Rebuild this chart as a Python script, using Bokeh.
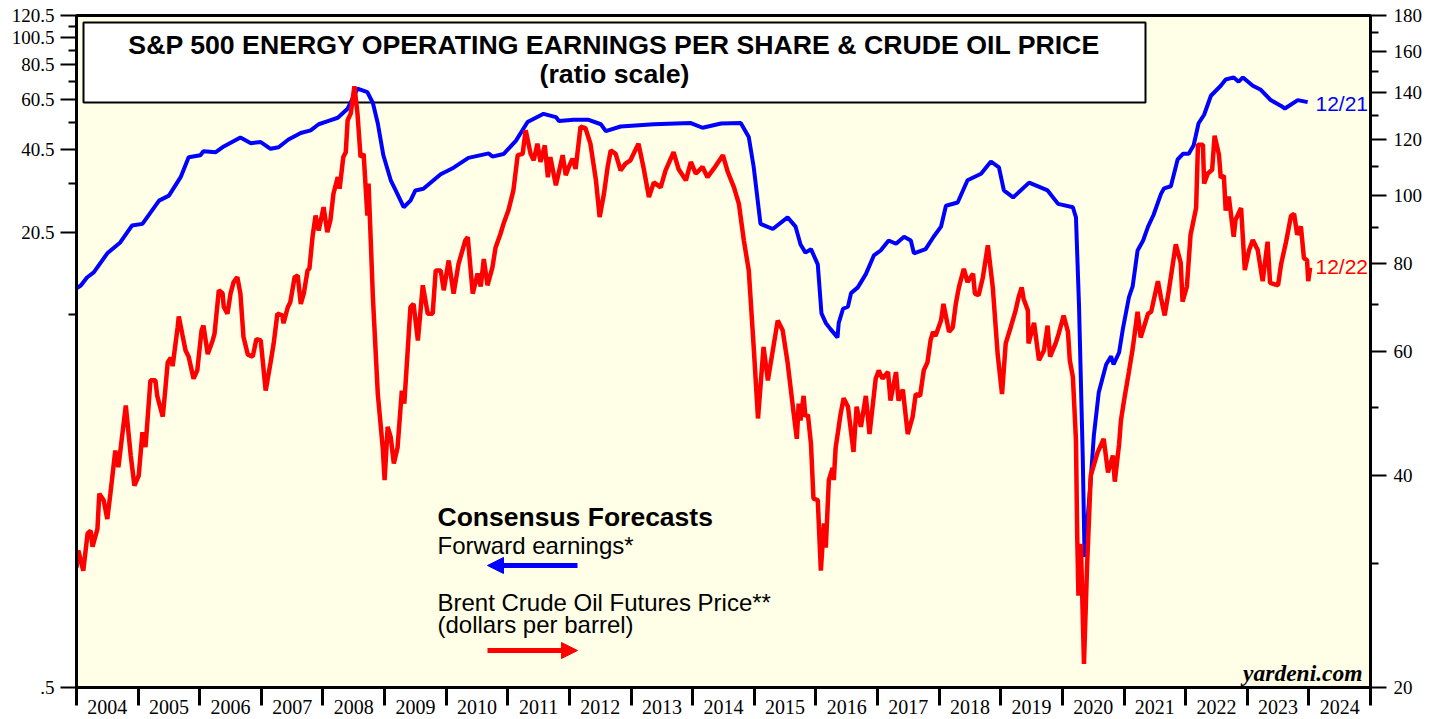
from bokeh.plotting import figure
from bokeh.models import (Range1d, LogScale, LogAxis, FixedTicker, Label,
                          BoxAnnotation, Arrow, NormalHead)
from bokeh.embed import file_html
from bokeh.resources import INLINE

# ---------------- data ----------------
YEAR_TICKS = list(range(2004, 2026))
YEAR_LABEL_POS = [y + 0.5 for y in range(2004, 2025)]
YEAR_LABELS = [str(y) for y in range(2004, 2025)]

LEFT_TICKS = [0.5, 20.5, 40.5, 60.5, 80.5, 100.5, 120.5]
LEFT_LABELS = [".5", "20.5", "40.5", "60.5", "80.5", "100.5", "120.5"]
LEFT_MINOR = [10.5, 30.5, 50.5, 70.5, 90.5, 110.5]

RIGHT_TICKS = [20, 40, 60, 80, 100, 120, 140, 160, 180]
RIGHT_LABELS = ["20", "40", "60", "80", "100", "120", "140", "160", "180"]
RIGHT_MINOR = [30, 50, 70, 90, 110, 130, 150, 170]

# Forward operating earnings per share (left axis)
eps_year = [
    2004.00, 2004.07, 2004.17, 2004.28, 2004.50, 2004.71, 2004.90, 2005.07, 2005.34, 2005.50,
    2005.69, 2005.82, 2006.01, 2006.06, 2006.26, 2006.39, 2006.66, 2006.83, 2006.99, 2007.15,
    2007.28, 2007.44, 2007.64, 2007.80, 2007.93, 2008.08, 2008.24, 2008.40, 2008.56, 2008.72,
    2008.81, 2008.89, 2008.98, 2009.10, 2009.18, 2009.31, 2009.42, 2009.50, 2009.63, 2009.91,
    2010.12, 2010.36, 2010.69, 2010.75, 2010.93, 2011.13, 2011.32, 2011.58, 2011.78, 2011.83,
    2012.07, 2012.30, 2012.51, 2012.59, 2012.83, 2013.37, 2013.97, 2014.16, 2014.46, 2014.78,
    2014.91, 2014.99, 2015.10, 2015.30, 2015.54, 2015.67, 2015.75, 2015.83, 2015.92, 2016.03,
    2016.09, 2016.16, 2016.24, 2016.35, 2016.37, 2016.44, 2016.52, 2016.57, 2016.68, 2016.81,
    2016.94, 2017.05, 2017.18, 2017.30, 2017.43, 2017.54, 2017.59, 2017.78, 2017.91, 2018.03,
    2018.11, 2018.30, 2018.46, 2018.68, 2018.84, 2018.97, 2019.05, 2019.20, 2019.46, 2019.76,
    2019.93, 2020.17, 2020.22, 2020.27, 2020.33, 2020.36, 2020.46, 2020.51, 2020.59, 2020.71,
    2020.79, 2020.83, 2020.92, 2020.98, 2021.08, 2021.14, 2021.22, 2021.31, 2021.39, 2021.48,
    2021.60, 2021.65, 2021.76, 2021.87, 2021.96, 2022.05, 2022.13, 2022.21, 2022.30, 2022.41,
    2022.57, 2022.65, 2022.78, 2022.86, 2022.93, 2023.09, 2023.22, 2023.38, 2023.55, 2023.61,
    2023.82, 2023.98,
]
eps_value = [
    13.0, 13.3, 14.2, 14.8, 17.3, 18.9, 21.7, 22.0, 26.6, 27.7,
    32.2, 37.9, 38.5, 39.8, 39.5, 41.4, 44.5, 42.5, 42.9, 40.6,
    41.1, 43.8, 46.2, 47.2, 49.6, 50.9, 52.3, 56.3, 66.3, 64.5,
    59.0, 49.9, 38.5, 31.4, 28.9, 25.2, 26.6, 28.9, 29.3, 33.0,
    34.8, 37.7, 39.1, 38.1, 38.9, 43.3, 50.5, 54.0, 52.6, 50.9,
    51.5, 51.5, 49.6, 46.9, 48.7, 49.6, 50.1, 48.2, 49.9, 50.1,
    44.7, 35.0, 22.0, 21.1, 23.2, 21.5, 18.6, 17.4, 17.9, 15.8,
    10.6, 9.8, 9.3, 8.7, 9.8, 11.0, 11.2, 12.5, 13.1, 14.6,
    17.0, 17.7, 19.2, 18.7, 19.8, 19.2, 17.3, 17.9, 19.8, 21.5,
    25.5, 26.2, 31.4, 33.1, 36.6, 34.9, 28.9, 27.3, 30.8, 28.9,
    25.9, 25.2, 23.2, 11.2, 3.3, 1.45, 2.73, 3.9, 5.56, 6.98,
    7.46, 6.98, 7.7, 9.3, 12.1, 13.2, 17.7, 19.2, 21.5, 23.7,
    28.1, 29.4, 29.9, 37.2, 39.0, 39.0, 41.8, 50.0, 53.6, 62.6,
    67.9, 71.5, 72.7, 70.2, 72.7, 67.9, 65.7, 60.4, 57.6, 56.4,
    60.4, 59.4,
]

# Brent crude oil futures price, dollars per barrel (right axis)
oil_year = [
    2004.00, 2004.03, 2004.11, 2004.18, 2004.23, 2004.26, 2004.34, 2004.37, 2004.44, 2004.50,
    2004.55, 2004.63, 2004.68, 2004.80, 2004.88, 2004.94, 2005.01, 2005.07, 2005.12, 2005.20,
    2005.28, 2005.31, 2005.40, 2005.44, 2005.48, 2005.53, 2005.56, 2005.64, 2005.66, 2005.72,
    2005.77, 2005.82, 2005.90, 2005.96, 2006.03, 2006.06, 2006.13, 2006.21, 2006.24, 2006.31,
    2006.37, 2006.39, 2006.45, 2006.50, 2006.55, 2006.61, 2006.66, 2006.71, 2006.78, 2006.86,
    2006.92, 2006.99, 2007.07, 2007.15, 2007.20, 2007.26, 2007.34, 2007.36, 2007.43, 2007.47,
    2007.54, 2007.59, 2007.64, 2007.69, 2007.75, 2007.78, 2007.83, 2007.88, 2007.93, 2008.01,
    2008.07, 2008.12, 2008.17, 2008.24, 2008.27, 2008.33, 2008.37, 2008.40, 2008.45, 2008.51,
    2008.56, 2008.61, 2008.66, 2008.72, 2008.74, 2008.81, 2008.89, 2008.97, 2009.00, 2009.05,
    2009.10, 2009.15, 2009.21, 2009.28, 2009.32, 2009.42, 2009.47, 2009.54, 2009.62, 2009.70,
    2009.78, 2009.83, 2009.91, 2009.96, 2010.04, 2010.12, 2010.20, 2010.31, 2010.35, 2010.43,
    2010.51, 2010.56, 2010.61, 2010.67, 2010.75, 2010.80, 2010.88, 2010.93, 2011.01, 2011.09,
    2011.16, 2011.24, 2011.29, 2011.37, 2011.42, 2011.48, 2011.53, 2011.60, 2011.65, 2011.69,
    2011.78, 2011.89, 2011.94, 2011.99, 2012.05, 2012.10, 2012.18, 2012.26, 2012.34, 2012.43,
    2012.49, 2012.56, 2012.62, 2012.67, 2012.75, 2012.83, 2012.91, 2012.99, 2013.12, 2013.20,
    2013.29, 2013.37, 2013.48, 2013.56, 2013.69, 2013.77, 2013.89, 2013.97, 2014.05, 2014.16,
    2014.24, 2014.34, 2014.49, 2014.57, 2014.67, 2014.75, 2014.83, 2014.91, 2014.99, 2015.06,
    2015.15, 2015.22, 2015.38, 2015.46, 2015.54, 2015.64, 2015.69, 2015.72, 2015.75, 2015.80,
    2015.83, 2015.87, 2015.92, 2015.96, 2016.03, 2016.08, 2016.13, 2016.16, 2016.21, 2016.27,
    2016.29, 2016.32, 2016.37, 2016.40, 2016.45, 2016.52, 2016.56, 2016.61, 2016.66, 2016.73,
    2016.81, 2016.87, 2016.97, 2017.02, 2017.08, 2017.17, 2017.21, 2017.30, 2017.34, 2017.41,
    2017.49, 2017.57, 2017.62, 2017.69, 2017.75, 2017.81, 2017.86, 2017.90, 2017.94, 2018.03,
    2018.07, 2018.16, 2018.22, 2018.27, 2018.32, 2018.40, 2018.46, 2018.55, 2018.58, 2018.64,
    2018.71, 2018.79, 2018.87, 2018.95, 2019.02, 2019.08, 2019.16, 2019.24, 2019.29, 2019.34,
    2019.37, 2019.44, 2019.45, 2019.54, 2019.62, 2019.70, 2019.76, 2019.80, 2019.89, 2019.94,
    2020.02, 2020.09, 2020.12, 2020.17, 2020.22, 2020.24, 2020.26, 2020.30, 2020.35, 2020.40,
    2020.46, 2020.57, 2020.67, 2020.74, 2020.82, 2020.85, 2020.92, 2020.95, 2021.00, 2021.08,
    2021.14, 2021.22, 2021.27, 2021.39, 2021.44, 2021.55, 2021.60, 2021.66, 2021.73, 2021.84,
    2021.92, 2021.95, 2022.02, 2022.08, 2022.17, 2022.20, 2022.28, 2022.30, 2022.36, 2022.43,
    2022.47, 2022.54, 2022.57, 2022.62, 2022.65, 2022.70, 2022.78, 2022.81, 2022.90, 2022.96,
    2023.03, 2023.09, 2023.17, 2023.25, 2023.33, 2023.37, 2023.50, 2023.55, 2023.63, 2023.71,
    2023.76, 2023.81, 2023.87, 2023.92, 2023.97, 2023.99, 2024.02,
]
oil_value = [
    29.6, 31.3, 29.3, 33.1, 33.4, 31.7, 33.6, 37.7, 36.9, 34.7,
    37.7, 43.4, 41.1, 50.3, 42.7, 38.7, 40.0, 46.1, 43.9, 54.6,
    54.6, 51.9, 48.5, 52.8, 57.9, 58.8, 57.2, 64.8, 67.3, 63.3,
    60.2, 59.0, 54.9, 56.4, 64.3, 65.3, 59.5, 62.2, 63.6, 73.3,
    72.6, 69.4, 67.9, 72.5, 75.3, 76.5, 72.5, 62.9, 59.4, 59.0,
    62.5, 62.2, 52.8, 57.9, 61.6, 67.9, 67.5, 65.8, 69.4, 70.5,
    76.5, 76.9, 70.1, 72.6, 78.2, 78.7, 87.2, 93.6, 89.1, 96.2,
    88.6, 92.1, 100.5, 106.1, 102.2, 113.3, 115.1, 127.8, 130.6, 142.8,
    130.6, 113.3, 114.5, 93.6, 103.9, 71.7, 52.2, 43.8, 39.4, 46.9,
    45.3, 41.6, 43.8, 52.8, 50.6, 69.4, 70.1, 62.2, 74.5, 67.9,
    67.9, 78.2, 78.2, 73.3, 80.8, 72.5, 79.9, 86.3, 87.2, 72.5,
    77.4, 74.2, 81.2, 74.5, 79.0, 84.2, 88.1, 91.1, 95.2, 101.6,
    114.0, 114.5, 123.7, 114.5, 112.1, 118.4, 111.5, 117.7, 106.1, 113.3,
    103.3, 114.0, 106.8, 109.7, 112.7, 109.0, 125.1, 124.5, 118.4, 105.0,
    93.1, 100.5, 109.7, 115.8, 114.5, 108.5, 110.9, 112.1, 118.4, 109.7,
    99.4, 104.3, 102.6, 108.5, 115.1, 109.0, 105.0, 111.5, 107.3, 109.7,
    106.1, 109.0, 114.0, 107.9, 102.6, 97.2, 86.3, 78.2, 60.9, 48.2,
    60.9, 54.6, 66.4, 64.3, 57.9, 48.9, 45.1, 50.6, 47.9, 51.9,
    48.5, 48.8, 44.3, 37.1, 36.9, 29.3, 34.2, 31.6, 39.4, 41.0,
    39.4, 43.8, 46.9, 48.9, 51.5, 50.1, 46.9, 43.2, 50.1, 46.9,
    51.9, 45.8, 54.9, 56.4, 54.9, 56.1, 51.1, 56.1, 51.1, 53.0,
    45.8, 48.5, 52.2, 51.9, 56.4, 57.9, 62.2, 64.0, 63.1, 66.4,
    70.1, 64.0, 64.9, 70.1, 74.0, 78.6, 75.3, 77.4, 72.5, 72.1,
    76.5, 84.9, 74.0, 59.4, 52.2, 61.6, 64.9, 68.6, 71.7, 74.0,
    71.3, 68.6, 61.6, 65.9, 58.3, 60.2, 65.3, 59.0, 61.6, 63.6,
    67.5, 64.0, 58.3, 55.2, 44.9, 33.0, 27.0, 32.0, 21.6, 29.7,
    40.0, 43.1, 45.1, 40.4, 42.7, 39.2, 44.3, 47.9, 51.1, 56.2,
    60.5, 68.3, 62.8, 67.9, 68.3, 75.5, 71.5, 67.5, 73.5, 85.2,
    80.2, 70.6, 74.2, 87.9, 95.9, 118.0, 118.0, 103.9, 107.4, 108.7,
    121.5, 114.3, 105.9, 106.6, 95.1, 99.6, 87.3, 92.3, 95.9, 78.3,
    83.6, 86.4, 83.6, 75.5, 85.9, 75.1, 74.5, 79.9, 85.9, 93.5,
    94.1, 87.9, 90.3, 81.4, 80.9, 75.5, 78.9,
]

# ---------------- figure ----------------
SERIF = "Liberation Serif"
SANS = "Liberation Sans"

p = figure(width=1440, height=719,
           x_range=Range1d(2004, 2025), y_range=Range1d(0.5, 120.5),
           y_axis_type="log", output_backend="svg", toolbar_location=None,
           min_border_left=76, min_border_right=70, min_border_top=15,
           min_border_bottom=32)
p.extra_y_ranges = {"oil": Range1d(20, 180)}
p.extra_y_scales = {"oil": LogScale()}

p.background_fill_color = "#FFFEE6"
p.border_fill_color = "white"
p.outline_line_color = "black"
p.outline_line_width = 3
p.xgrid.visible = False
p.ygrid.visible = False

# x axis: ticks at year boundaries (minor), labels centred in each year
xa = p.xaxis[0]
xa.ticker = FixedTicker(ticks=YEAR_LABEL_POS, minor_ticks=YEAR_TICKS)
xa.major_label_overrides = dict(zip(YEAR_LABEL_POS, YEAR_LABELS))
xa.major_tick_line_color = None
xa.major_tick_out = 0
xa.major_tick_in = 0
xa.minor_tick_out = 18
xa.minor_tick_in = 0
xa.minor_tick_line_width = 3
xa.minor_tick_line_color = "black"
xa.axis_line_width = 3
xa.major_label_standoff = -6
xa.major_label_text_font = SERIF
xa.major_label_text_font_size = "20px"
xa.major_label_text_color = "black"

# left axis
ya = p.yaxis[0]
ya.ticker = FixedTicker(ticks=LEFT_TICKS, minor_ticks=LEFT_MINOR)
ya.major_label_overrides = dict(zip(LEFT_TICKS, LEFT_LABELS))
ya.major_tick_out = 16
ya.major_tick_in = 0
ya.major_tick_line_width = 2
ya.minor_tick_out = 8
ya.minor_tick_in = 0
ya.minor_tick_line_width = 2
ya.axis_line_width = 3
ya.major_label_standoff = 6
ya.major_label_text_font = SERIF
ya.major_label_text_font_size = "19px"
ya.major_label_text_color = "black"

# right axis
ra = LogAxis(y_range_name="oil",
             ticker=FixedTicker(ticks=RIGHT_TICKS, minor_ticks=RIGHT_MINOR))
ra.major_label_overrides = dict(zip(RIGHT_TICKS, RIGHT_LABELS))
ra.major_tick_out = 16
ra.major_tick_in = 0
ra.major_tick_line_width = 2
ra.minor_tick_out = 8
ra.minor_tick_in = 0
ra.minor_tick_line_width = 2
ra.axis_line_width = 3
ra.major_label_standoff = 7
ra.major_label_text_font = SERIF
ra.major_label_text_font_size = "19px"
ra.major_label_text_color = "black"
p.add_layout(ra, "right")

# title box (beneath the lines)
p.add_layout(BoxAnnotation(left=7, right=1069, top=665, bottom=585,
                           left_units="screen", right_units="screen",
                           top_units="screen", bottom_units="screen",
                           fill_color="white", fill_alpha=1.0,
                           line_color="black", line_width=2, line_alpha=1.0,
                           level="underlay"))

# series
p.line(eps_year, eps_value, line_color="#0000FF", line_width=4)
p.line(oil_year, oil_value, line_color="#FF0000", line_width=4.5,
       y_range_name="oil")


def lab(text, x, y, size, color="black", style="normal", font=SANS,
        align="left"):
    p.add_layout(Label(x=x, y=y, x_units="screen", y_units="screen",
                       text=text, text_font=font, text_font_size=size,
                       text_font_style=style, text_color=color,
                       text_align=align, text_baseline="middle"))


lab("S&P 500 ENERGY OPERATING EARNINGS PER SHARE & CRUDE OIL PRICE",
    538, 643, "26.7px", style="bold", align="center")
lab("(ratio scale)", 538, 614, "26.7px", style="bold", align="center")

lab("Consensus Forecasts", 361, 171, "26.5px", style="bold")
lab("Forward earnings*", 361, 142, "24px")
lab("Brent Crude Oil Futures Price**", 361, 85, "24px")
lab("(dollars per barrel)", 361, 63, "24px")

p.add_layout(Arrow(x_start=501, y_start=122, x_end=411, y_end=122,
                   start_units="screen", end_units="screen",
                   line_color="#0000FF", line_width=5,
                   end=NormalHead(size=16, fill_color="#0000FF",
                                  line_color="#0000FF")))
p.add_layout(Arrow(x_start=411, y_start=37, x_end=501, y_end=37,
                   start_units="screen", end_units="screen",
                   line_color="#FF0000", line_width=5,
                   end=NormalHead(size=16, fill_color="#FF0000",
                                  line_color="#FF0000")))

lab("12/21", 1239, 584, "21px", color="#0000FF")
lab("12/22", 1239, 421, "21px", color="#FF0000")
lab("yardeni.com", 1286, 15, "23.5px", style="bold italic", font=SERIF,
    align="right")

open("out.html", "w").write(file_html(p, INLINE))
